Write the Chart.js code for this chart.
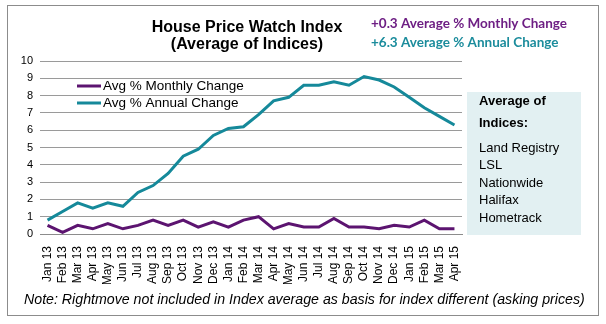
<!DOCTYPE html>
<html>
<head>
<meta charset="utf-8">
<script src="https://cdn.jsdelivr.net/npm/chart.js@4"></script>
<style>
  html, body { margin: 0; padding: 0; background: #fff; }
  #wrap { position: relative; width: 606px; height: 324px; }
</style>
</head>
<body>
<div id="wrap"><canvas id="hpi" width="606" height="324"></canvas></div>
<script>
const months = ['Jan 13', 'Feb 13', 'Mar 13', 'Apr 13', 'May 13', 'Jun 13', 'Jul 13', 'Aug 13', 'Sep 13', 'Oct 13', 'Nov 13', 'Dec 13',
    'Jan 14', 'Feb 14', 'Mar 14', 'Apr 14', 'May 14', 'Jun 14', 'Jul 14', 'Aug 14', 'Sep 14', 'Oct 14', 'Nov 14', 'Dec 14',
    'Jan 15', 'Feb 15', 'Mar 15', 'Apr 15'];
const monthlyChange = [0.5, 0.1, 0.5, 0.3, 0.6, 0.3, 0.5, 0.8, 0.5, 0.8, 0.4, 0.7,
    0.4, 0.8, 1.0, 0.3, 0.6, 0.4, 0.4, 0.9, 0.4, 0.4, 0.3, 0.5,
    0.4, 0.8, 0.3, 0.3];
const annualChange = [0.8, 1.3, 1.8, 1.5, 1.8, 1.6, 2.4, 2.8, 3.5, 4.5, 4.9, 5.7,
    6.1, 6.2, 6.9, 7.7, 7.9, 8.6, 8.6, 8.8, 8.6, 9.1, 8.9, 8.5,
    7.9, 7.3, 6.8, 6.3];
const indices = ['Land Registry', 'LSL', 'Nationwide', 'Halifax', 'Hometrack'];

const purple = '#5c1470';
const teal = '#15899a';

// frame, titles, legend, side box and footnote
const decorations = {
    id: 'decorations',
    afterDraw(chart) {
        const ctx = chart.ctx;
        ctx.save();

        ctx.strokeStyle = '#8c8c8c';
        ctx.lineWidth = 1;
        ctx.strokeRect(7.5, 5.5, 591, 310);

        ctx.fillStyle = '#000';
        ctx.font = 'bold 16px "Liberation Sans", Arial, sans-serif';
        ctx.textAlign = 'center';
        ctx.textBaseline = 'middle';
        ctx.fillText('House Price Watch Index', 247, 28);
        ctx.fillText('(Average of Indices)', 247, 45);

        ctx.textAlign = 'left';
        ctx.font = 'bold 13.5px Lato, "Open Sans", sans-serif';
        ctx.fillStyle = '#6e1f84';
        ctx.fillText('+0.3 Average % Monthly Change', 371, 24);
        ctx.fillStyle = '#1b8c9c';
        ctx.fillText('+6.3 Average % Annual Change', 371, 43);

        // legend
        ctx.font = '13.5px "Liberation Sans", Arial, sans-serif';
        chart.data.datasets.forEach((ds, i) => {
            const y = 86 + i * 17;
            ctx.strokeStyle = ds.borderColor;
            ctx.lineWidth = 3;
            ctx.beginPath();
            ctx.moveTo(77, y);
            ctx.lineTo(101, y);
            ctx.stroke();
            ctx.fillStyle = '#000';
            ctx.fillText(ds.label, 103, y);
        });

        // list of indices
        ctx.fillStyle = '#e2f0f2';
        ctx.fillRect(467, 92, 114, 143);
        ctx.fillStyle = '#000';
        ctx.font = 'bold 13px "Liberation Sans", Arial, sans-serif';
        ctx.fillText('Average of', 479, 101);
        ctx.fillText('Indices:', 479, 123);
        ctx.font = '13px "Liberation Sans", Arial, sans-serif';
        indices.forEach((name, i) => ctx.fillText(name, 479, 148 + i * 17.6));

        ctx.font = 'italic 14.2px "Liberation Sans", Arial, sans-serif';
        ctx.fillText('Note: Rightmove not included in Index average as basis for index different (asking prices)', 24, 300);

        ctx.restore();
    }
};

new Chart(document.getElementById('hpi'), {
    type: 'line',
    data: {
        labels: months,
        datasets: [{
            label: 'Avg % Monthly Change',
            data: monthlyChange,
            borderColor: purple,
            borderWidth: 3,
            pointRadius: 0,
            tension: 0,
            fill: false
        }, {
            label: 'Avg % Annual Change',
            data: annualChange,
            borderColor: teal,
            borderWidth: 3,
            pointRadius: 0,
            tension: 0,
            fill: false
        }]
    },
    options: {
        responsive: false,
        animation: false,
        layout: { padding: { top: 61, right: 144, bottom: 40, left: 0 } },
        plugins: {
            legend: { display: false },
            tooltip: { enabled: false }
        },
        scales: {
            x: {
                offset: true,
                grid: { display: false },
                border: { color: '#8c8c8c' },
                afterFit: scale => { scale.height = 50; },
                ticks: {
                    autoSkip: false,
                    minRotation: 90,
                    maxRotation: 90,
                    padding: 4,
                    color: '#000',
                    font: { family: '"Liberation Sans", Arial, sans-serif', size: 12 }
                }
            },
            y: {
                min: 0,
                max: 10,
                afterFit: scale => { scale.width = 40; },
                border: { display: false },
                grid: { color: '#9a9a9a', drawTicks: false },
                ticks: {
                    stepSize: 1,
                    padding: 7,
                    color: '#000',
                    font: { family: '"Liberation Sans", Arial, sans-serif', size: 11 }
                }
            }
        }
    },
    plugins: [decorations]
});
</script>
</body>
</html>
